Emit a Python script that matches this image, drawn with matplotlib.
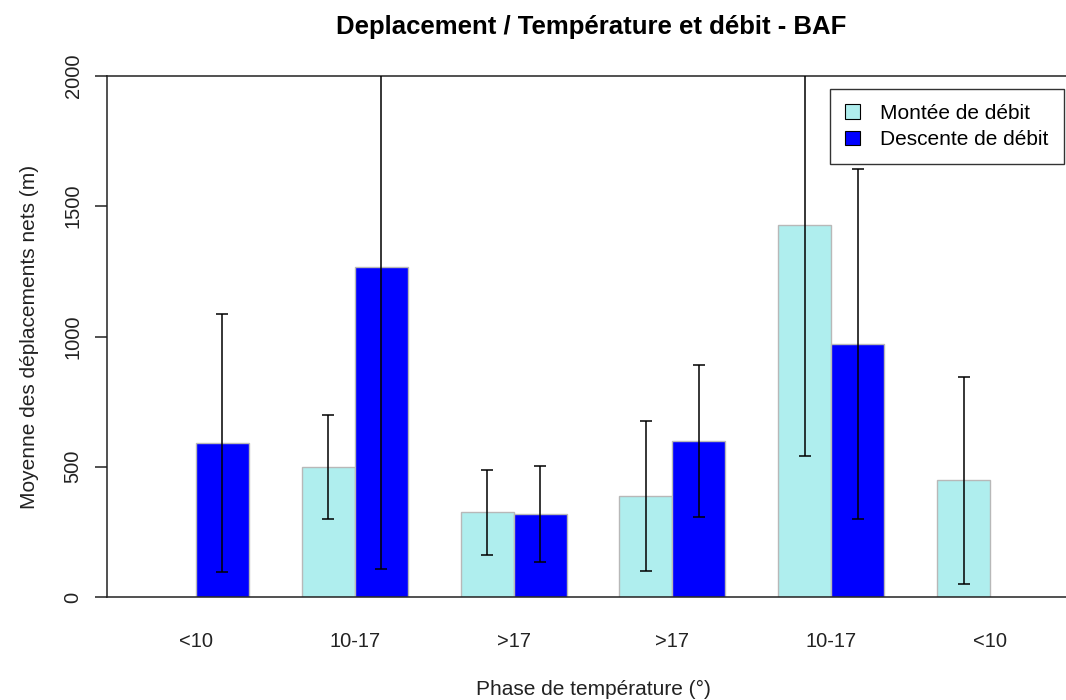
import numpy as np
import matplotlib
matplotlib.use("Agg")
import matplotlib.pyplot as plt
from matplotlib.patches import Patch

plt.rcParams['font.family'] = ['Liberation Sans', 'DejaVu Sans']

# donnees
phases = ["<10", "10-17", ">17", ">17", "10-17", "<10"]
montee = [np.nan, 499, 325, 388, 1427, 448]
montee_err = [np.nan, 198, 162, 288, 886, 397]
descente = [592, 1268, 319, 598, 972, np.nan]
descente_err = [496, 1161, 183, 292, 672, np.nan]

col_montee = "#AFEEEE"   # paleturquoise
col_descente = "#0000FF"  # blue

W, H = 1066, 700
fig = plt.figure(figsize=(W/100, H/100), dpi=100)
# zone de trace (pixels) : gauche 107, droite 1079 (hors image), haut 76, bas 597
ax = fig.add_axes([107/W, (H-597)/H, (1079-107)/W, (597-76)/H])

n = len(phases)
x_m = np.arange(n)*3 + 1.5
x_d = np.arange(n)*3 + 2.5
x_lab = np.arange(n)*3 + 2

ax.bar(x_m, montee, width=1, color=col_montee, edgecolor="#b8b8b8", linewidth=1, zorder=2)
ax.bar(x_d, descente, width=1, color=col_descente, edgecolor="#b8b8b8", linewidth=1, zorder=2)
ax.errorbar(x_m, montee, yerr=montee_err, fmt="none", ecolor="black",
            elinewidth=1.1, capsize=4.3, capthick=1.1, zorder=3)
ax.errorbar(x_d, descente, yerr=descente_err, fmt="none", ecolor="black",
            elinewidth=1.1, capsize=4.3, capthick=1.1, zorder=3)

ax.set_xlim(0.32, 18.68)
ax.set_ylim(0, 2000)

ax.spines['right'].set_visible(False)
for s in ['left', 'top', 'bottom']:
    ax.spines[s].set_linewidth(1.1)
    ax.spines[s].set_color("#222222")

ax.set_yticks([0, 500, 1000, 1500, 2000])
ax.set_yticklabels(["0", "500", "1000", "1500", "2000"], rotation=90, va="center")
ax.tick_params(axis='y', length=8.6, width=1.1, pad=9, labelsize=14.5, colors="#222222")
ax.set_xticks(x_lab)
ax.set_xticklabels(phases)
ax.tick_params(axis='x', length=0, pad=25, labelsize=14.5, colors="#222222")

ax.set_xlabel("Phase de température (°)", fontsize=15, labelpad=21, color="#222222")
ax.set_ylabel("Moyenne des déplacements nets (m)", fontsize=15, labelpad=18, color="#222222")

fig.text(591/W, 1-27/H, "Deplacement / Température et débit - BAF",
         ha="center", va="center", fontsize=18.5, fontweight="bold")

handles = [Patch(facecolor=col_montee, edgecolor="black", linewidth=0.8),
           Patch(facecolor=col_descente, edgecolor="black", linewidth=0.8)]
leg = fig.legend(handles, ["Montée de débit", "Descente de débit"],
                 loc="upper left", bbox_to_anchor=(830/W, 1-89/H),
                 fontsize=15, frameon=True, fancybox=False, borderaxespad=0,
                 handlelength=0.7, handleheight=0.7, handletextpad=1.0,
                 borderpad=0.72, labelspacing=0.35)
leg.get_frame().set_edgecolor("black")
leg.get_frame().set_linewidth(1)

fig.savefig("out.png", dpi=100)
